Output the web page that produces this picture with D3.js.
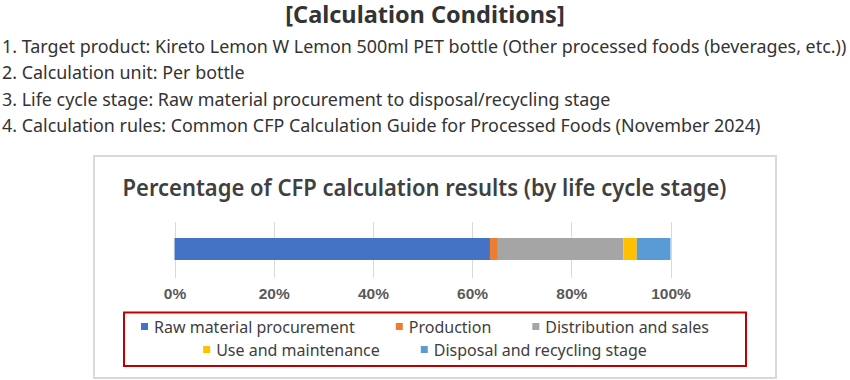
<!DOCTYPE html>
<meta charset="utf-8">
<style>
body { margin: 0; background: #fff; }
svg { display: block; font-family: "Noto Sans", sans-serif; }
.cond { font-size: 17.9px; fill: #333; }
.grid line { stroke: #d9d9d9; }
.tick text { font-size: 15.5px; font-weight: bold; fill: #595959; }
.legend text { font-size: 16px; fill: #404040; }
</style>
<svg width="850" height="380"></svg>
<script src="https://d3js.org/d3.v7.min.js"></script>
<script>

// dados
var stages = ["Raw material procurement", "Production", "Distribution and sales",
              "Use and maintenance", "Disposal and recycling stage"];
var shares = [63.6, 1.6, 25.3, 2.7, 6.8];
var colors = ["#4472c4", "#ed7d31", "#a5a5a5", "#ffc000", "#5b9bd5"];
var tickValues = [0, 20, 40, 60, 80, 100];
var heading = "[Calculation Conditions]";
var conditions = [
  "1. Target product: Kireto Lemon W Lemon 500ml PET bottle (Other processed foods (beverages, etc.))",
  "2. Calculation unit: Per bottle",
  "3. Life cycle stage: Raw material procurement to disposal/recycling stage",
  "4. Calculation rules: Common CFP Calculation Guide for Processed Foods (November 2024)"
];
var chartTitle = "Percentage of CFP calculation results (by life cycle stage)";
var legendRows = [[0, 1, 2], [3, 4]];

var svg = d3.select("svg");

// cabeçalho
svg.append("text")
    .attr("x", 425).attr("y", 22.5)
    .attr("text-anchor", "middle")
    .style("font-size", "23.5px").style("font-weight", "bold").style("fill", "#333")
    .text(heading);

svg.selectAll("text.cond")
  .data(conditions)
  .enter().append("text")
    .attr("class", "cond")
    .attr("x", 2)
    .attr("y", (d, i) => 52.5 + i * 26.6)
    .text(d => d);

// moldura do gráfico
svg.append("rect")
    .attr("x", 94).attr("y", 156).attr("width", 682).attr("height", 222)
    .attr("fill", "#fff").attr("stroke", "#d9d9d9").attr("stroke-width", 2);

svg.append("text")
    .attr("x", 122.5).attr("y", 195.5)
    .attr("textLength", 604).attr("lengthAdjust", "spacingAndGlyphs")
    .style("font-size", "23px").style("font-weight", 600).style("fill", "#404040")
    .text(chartTitle);

var x = d3.scaleLinear().domain([0, 100]).range([174.5, 670.5]);

// linhas de grade
svg.append("g")
    .attr("class", "grid")
  .selectAll("line")
  .data(tickValues)
  .enter().append("line")
    .attr("x1", d => Math.round(x(d)) + 0.5).attr("x2", d => Math.round(x(d)) + 0.5)
    .attr("y1", 222).attr("y2", 278);

// barra empilhada
var row = {};
stages.forEach((s, i) => row[s] = shares[i]);
var series = d3.stack().keys(stages)([row]);

svg.append("g")
  .selectAll("rect")
  .data(series)
  .enter().append("rect")
    .attr("x", d => x(d[0][0]))
    .attr("width", d => x(d[0][1]) - x(d[0][0]))
    .attr("y", 238).attr("height", 22)
    .attr("fill", (d, i) => colors[i]);

// eixo
var axis = svg.append("g")
    .attr("transform", "translate(0,283)")
    .call(d3.axisBottom(x).tickValues(tickValues).tickSize(0).tickPadding(0).tickFormat(d => d + "%"));
axis.select(".domain").remove();
axis.selectAll(".tick text").attr("dy", "1em").attr("y", 0)
    .attr("font-family", null).attr("font-size", null);

// legenda
svg.append("rect")
    .attr("x", 124).attr("y", 312.5).attr("width", 622).attr("height", 53.5)
    .attr("fill", "none").attr("stroke", "#c00000").attr("stroke-width", 2);

var legend = svg.append("g").attr("class", "legend");
legendRows.forEach((idx, r) => {
  var y = 333 + r * 23;
  var items = idx.map(i => {
    var g = legend.append("g");
    g.append("rect").attr("width", 7).attr("height", 7).attr("y", -10).attr("fill", colors[i]);
    var t = g.append("text").attr("x", 13).attr("y", 0).text(stages[i]);
    return {g: g, w: 13 + t.node().getComputedTextLength()};
  });
  var gap = 41;
  var total = d3.sum(items, d => d.w) + gap * (items.length - 1);
  var cx = 425 - total / 2;
  items.forEach(it => {
    it.g.attr("transform", "translate(" + cx + "," + y + ")");
    cx += it.w + gap;
  });
});

</script>
